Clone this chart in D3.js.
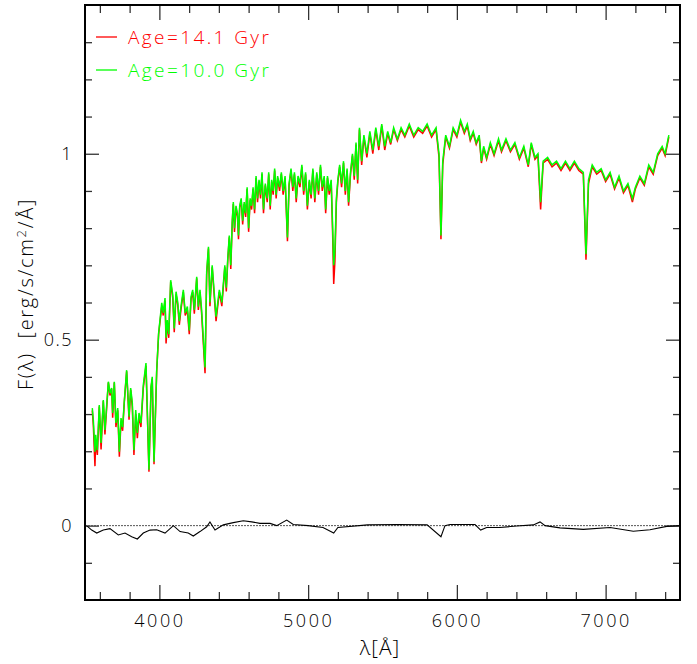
<!DOCTYPE html>
<html>
<head>
<meta charset="utf-8">
<script src="https://cdn.jsdelivr.net/npm/d3@7"></script>
<style>
  body { margin: 0; background: #fff; }
  svg { display: block; }
  .lbl { font-family: "Open Sans", "DejaVu Sans", sans-serif; font-weight: 300; fill: #000; }
  .axis path { display: none; }
  .axis line { stroke: #333; stroke-width: 1.3; }
</style>
</head>
<body>
<svg id="chart" width="697" height="664"></svg>
<script>
// wavelengths (Angstrom) of the read-off points
var lambda = [3549,3556,3567,3572,3583,3596,3608,3623,3634,3657,3668,3679,3686,3697,3708,3720,3731,3742,3753,3764,
  3780,3796,3807,3818,3829,3841,3852,3863,3876,3892,3910,3930,3944,3952,3964,3982,3995,4016,4026,4038,
  4045,4053,4063,4076,4090,4100,4112,4123,4134,4145,4161,4174,4188,4201,4213,4224,4235,4251,4262,4273,
  4284,4307,4318,4330,4340,4355,4370,4381,4403,4420,
  4440,4450,4460,4470,4480,4490,4497,4505,4515,4525,4532,4540,4550,4560,4570,4580,4590,4600,4610,4620,
  4630,4640,4650,4660,4670,4680,4690,4700,4712,4725,4735,4745,4755,4765,4775,4785,4795,4808,4820,4832,
  4845,4861,4872,4885,4897,4908,4920,4932,4945,4958,4970,4983,4995,5008,5020,5032,5045,5058,5070,5083,
  5095,5108,5118,5130,5142,5155,5165,5172,5180,5190,5200,5212,5225,5238,5250,5262,5272,5285,5298,5310,
  5322,5333,5345,5360,5375,5395,5415,5435,5455,5475,5495,5515,5535,5555,5575,5600,5625,5650,5680,5710,
  5740,5770,5800,5830,5860,5880,5893,5905,5925,5950,5975,6000,6025,6050,6070,6090,6110,6130,6150,6165,
  6180,6200,6225,6250,6280,6300,6330,6360,6390,6420,6450,6480,6500,6525,6545,6563,6580,6610,6640,6670,
  6700,6730,6760,6790,6820,6850,6868,6885,6910,6940,6970,7000,7030,7060,7090,7120,7150,7180,7200,7230,
  7260,7290,7320,7350,7380,7400,7425];

// Age = 10.0 Gyr
var flux10 = [0.316,0.284,0.199,0.244,0.203,0.324,0.222,0.338,0.257,0.387,0.356,0.370,0.303,0.387,0.276,0.316,0.199,0.289,0.265,0.333,
  0.418,0.293,0.370,0.330,0.203,0.311,0.249,0.303,0.276,0.378,0.437,0.150,0.374,0.400,0.172,0.418,0.518,0.599,0.572,0.612,
  0.505,0.553,0.515,0.660,0.620,0.530,0.629,0.602,0.550,0.589,0.634,0.572,0.589,0.525,0.616,0.634,0.580,0.669,0.589,0.634,
  0.580,0.425,0.683,0.750,0.600,0.700,0.620,0.562,0.634,0.600,
  0.700,0.640,0.720,0.780,0.700,0.820,0.870,0.800,0.860,0.840,0.780,0.860,0.880,0.820,0.870,0.840,0.910,0.800,0.880,0.860,
  0.910,0.850,0.940,0.880,0.930,0.890,0.950,0.850,0.920,0.880,0.950,0.860,0.930,0.900,0.960,0.890,0.940,0.910,0.950,0.900,
  0.940,0.775,0.920,0.960,0.910,0.950,0.880,0.940,0.920,0.970,0.900,0.950,0.860,0.930,0.890,0.960,0.880,0.950,0.900,0.970,
  0.910,0.940,0.850,0.940,0.900,0.930,0.800,0.700,0.740,0.880,0.930,0.970,0.920,0.980,0.900,0.960,0.870,0.950,1.000,0.940,
  1.030,0.930,1.070,0.980,1.050,1.000,1.060,1.010,1.070,1.020,1.080,1.020,1.060,1.030,1.070,1.040,1.070,1.050,1.080,1.050,
  1.070,1.060,1.080,1.050,1.070,1.000,0.780,0.980,1.050,1.020,1.070,1.050,1.090,1.060,1.080,1.040,1.060,1.030,1.050,0.980,
  1.020,0.990,1.030,1.000,1.040,1.010,1.040,1.010,1.030,0.990,1.020,0.970,1.030,0.990,1.000,0.870,0.980,0.990,0.970,0.980,
  0.960,0.980,0.960,0.980,0.960,0.950,0.730,0.930,0.970,0.950,0.960,0.930,0.950,0.910,0.940,0.900,0.920,0.880,0.910,0.940,
  0.920,0.970,0.950,1.000,1.020,1.000,1.050];

// Age = 14.1 Gyr
var flux14 = [0.310,0.270,0.160,0.230,0.190,0.320,0.205,0.335,0.245,0.385,0.350,0.368,0.290,0.385,0.265,0.310,0.185,0.280,0.255,0.330,
  0.415,0.285,0.365,0.320,0.190,0.300,0.235,0.295,0.265,0.370,0.430,0.145,0.370,0.395,0.165,0.415,0.515,0.590,0.565,0.605,
  0.490,0.545,0.505,0.655,0.612,0.520,0.622,0.595,0.540,0.580,0.628,0.565,0.580,0.515,0.610,0.628,0.570,0.665,0.580,0.628,
  0.570,0.410,0.675,0.745,0.590,0.695,0.610,0.550,0.628,0.590,
  0.695,0.630,0.715,0.775,0.690,0.815,0.865,0.790,0.855,0.830,0.770,0.855,0.875,0.810,0.865,0.830,0.905,0.790,0.875,0.850,
  0.905,0.840,0.935,0.870,0.925,0.880,0.945,0.840,0.915,0.870,0.945,0.850,0.925,0.890,0.955,0.880,0.935,0.900,0.945,0.890,
  0.935,0.765,0.915,0.955,0.900,0.945,0.870,0.935,0.910,0.965,0.890,0.945,0.850,0.925,0.880,0.955,0.870,0.945,0.890,0.965,
  0.900,0.935,0.840,0.935,0.890,0.925,0.780,0.650,0.710,0.870,0.925,0.965,0.910,0.975,0.890,0.955,0.860,0.945,0.995,0.930,
  1.025,0.920,1.065,0.970,1.045,0.990,1.055,1.000,1.065,1.010,1.075,1.010,1.055,1.025,1.065,1.035,1.065,1.045,1.075,1.045,
  1.065,1.055,1.075,1.045,1.065,0.990,0.770,0.970,1.045,1.015,1.065,1.045,1.085,1.055,1.075,1.035,1.055,1.025,1.045,0.975,
  1.015,0.985,1.025,0.995,1.035,1.005,1.035,1.005,1.025,0.985,1.015,0.965,1.025,0.985,0.995,0.850,0.975,0.985,0.965,0.975,
  0.955,0.975,0.955,0.975,0.955,0.945,0.715,0.920,0.965,0.945,0.955,0.925,0.945,0.905,0.935,0.895,0.915,0.870,0.905,0.935,
  0.915,0.965,0.945,0.995,1.015,0.995,1.045];

// difference between the two spectra
var diffLambda = [3511,3545,3579,3623,3668,3724,3769,3814,3852,3892,3937,3982,4038,4094,4139,4194,4228,4273,4318,4340,
  4374,4430,4497,4564,4621,4676,4744,4789,4856,4900,5000,5100,5172,5200,5400,5600,5800,5893,5920,5954,
  6122,6160,6200,6290,6402,6514,6559,6593,6693,6850,7030,7186,7298,7411,7500];
var diffFlux = [0.000,-0.012,-0.020,-0.012,-0.008,-0.025,-0.020,-0.030,-0.036,-0.020,-0.012,-0.011,-0.020,0.000,-0.016,-0.020,-0.028,-0.016,-0.003,0.010,
  -0.012,0.002,0.008,0.013,0.010,0.006,0.006,0.000,0.015,0.003,0.000,-0.005,-0.020,-0.005,0.002,0.003,0.002,-0.030,0.000,0.003,
  0.003,-0.012,-0.005,-0.005,-0.001,0.002,0.010,0.000,-0.006,-0.010,-0.005,-0.015,-0.011,-0.002,0.000];

var xMajor = [4000, 5000, 6000, 7000];
var yMajor = [0, 0.5, 1];
var legendLabels = ["Age=14.1 Gyr", "Age=10.0 Gyr"];
var legendColors = ["#ff0000", "#00ff00"];

var svg = d3.select("#chart"),
    margin = {top: 5, left: 85},
    width = 595,
    height = 595;

var g = svg.append("g").attr("transform", "translate(" + margin.left + "," + margin.top + ")");

var x = d3.scaleLinear().domain([3500, 7500]).range([0, width]);
var y = d3.scaleLinear().domain([-0.2, 1.4]).range([height, 0]);

var xMinor = d3.range(3600, 7500, 200).filter(function(v) { return v % 1000 !== 0; });
var yMinor = d3.range(-0.1, 1.4, 0.1).map(function(v) { return Math.round(v * 10) / 10; })
  .filter(function(v) { return Math.abs(v * 2 - Math.round(v * 2)) > 1e-6; });

// ticks, pointing inward on all four sides
function addAxis(axis, tr) {
  return g.append("g").attr("class", "axis lbl").attr("transform", tr).call(axis);
}
addAxis(d3.axisBottom(x).tickValues(xMajor).tickSize(-15).tickPadding(14).tickFormat(d3.format("d")), "translate(0," + height + ")")
  .selectAll("text").style("font-size", "18px").style("letter-spacing", "2.5px");
addAxis(d3.axisBottom(x).tickValues(xMinor).tickSize(-8).tickFormat(""), "translate(0," + height + ")");
addAxis(d3.axisTop(x).tickValues(xMajor).tickSize(-15).tickFormat(""), "translate(0,0)");
addAxis(d3.axisTop(x).tickValues(xMinor).tickSize(-8).tickFormat(""), "translate(0,0)");
addAxis(d3.axisLeft(y).tickValues(yMajor).tickSize(-14).tickPadding(12).tickFormat(function(d) { return String(d); }), "translate(0,0)")
  .selectAll("text").style("font-size", "18px").style("letter-spacing", "1.5px");
addAxis(d3.axisLeft(y).tickValues(yMinor).tickSize(-7).tickFormat(""), "translate(0,0)");
addAxis(d3.axisRight(y).tickValues(yMajor).tickSize(-14).tickFormat(""), "translate(" + width + ",0)");
addAxis(d3.axisRight(y).tickValues(yMinor).tickSize(-7).tickFormat(""), "translate(" + width + ",0)");
g.selectAll(".axis text").attr("font-family", null).attr("font-size", null);

// zero reference line
g.append("line")
  .attr("x1", 0).attr("x2", width)
  .attr("y1", y(0)).attr("y2", y(0))
  .attr("stroke", "#555").attr("stroke-width", 1).attr("stroke-dasharray", "2,1");

var line = d3.line()
  .x(function(d) { return x(d[0]); })
  .y(function(d) { return y(d[1]); });

g.append("path")
  .datum(d3.zip(diffLambda, diffFlux))
  .attr("fill", "none").attr("stroke", "#000").attr("stroke-width", 1.1)
  .attr("d", line);

g.append("path")
  .datum(d3.zip(lambda, flux14))
  .attr("fill", "none").attr("stroke", legendColors[0]).attr("stroke-width", 1.5)
  .attr("d", line);

g.append("path")
  .datum(d3.zip(lambda, flux10))
  .attr("fill", "none").attr("stroke", legendColors[1]).attr("stroke-width", 1.5)
  .attr("d", line);

// frame
g.append("rect")
  .attr("width", width).attr("height", height)
  .attr("fill", "none").attr("stroke", "#000").attr("stroke-width", 2);

// legend
var leg = g.selectAll(".leg").data(legendLabels).enter().append("g")
  .attr("class", "leg")
  .attr("transform", function(d, i) { return "translate(11," + (32 + i * 33) + ")"; });
leg.append("line")
  .attr("x1", 0).attr("x2", 21)
  .attr("stroke", function(d, i) { return legendColors[i]; }).attr("stroke-width", 1.3);
leg.append("text")
  .attr("class", "lbl")
  .attr("x", 32).attr("dy", "0.35em")
  .style("font-size", "19px").style("letter-spacing", "2.4px")
  .style("fill", function(d, i) { return legendColors[i]; })
  .text(function(d) { return d; });

// axis titles
svg.append("text")
  .attr("class", "lbl")
  .attr("transform", "translate(33,294) rotate(-90)")
  .attr("text-anchor", "middle")
  .style("font-size", "20px").style("letter-spacing", "1.7px")
  .html("F(λ)&#160;&#160;[erg/s/cm<tspan dy='-7' font-size='13px'>2</tspan><tspan dy='7'>/Å]</tspan>");

svg.append("text")
  .attr("class", "lbl")
  .attr("x", 380).attr("y", 655)
  .attr("text-anchor", "middle")
  .style("font-size", "21px").style("letter-spacing", "1px")
  .text("λ[Å]");
</script>
</body>
</html>
